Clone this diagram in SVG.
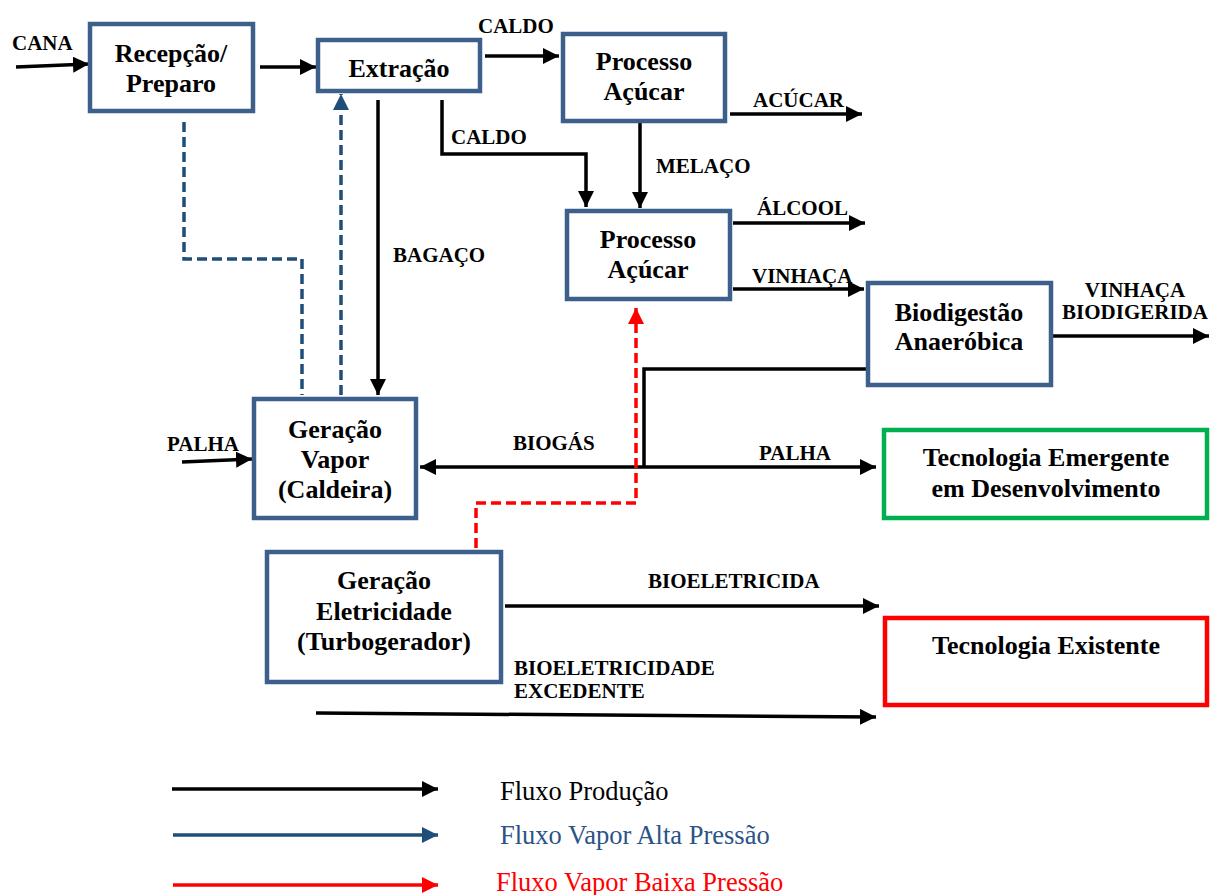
<svg xmlns="http://www.w3.org/2000/svg" width="1210" height="895" viewBox="0 0 1210 895">
  <style>
    .box { fill: #ffffff; stroke: #3D5F8C; stroke-width: 4.5; }
    .tech-new { fill: #ffffff; stroke: #00B050; stroke-width: 4.5; }
    .tech-old { fill: #ffffff; stroke: #FF0000; stroke-width: 4.5; }
    .bt { font-family: "Liberation Serif", "Times New Roman", serif; font-weight: bold; font-size: 26px; fill: #000; text-anchor: middle; }
    .lbl { font-family: "Liberation Serif", "Times New Roman", serif; font-weight: bold; font-size: 21px; fill: #000; }
    .leg { font-family: "Liberation Serif", "Times New Roman", serif; font-size: 26.5px; }
    .flow { fill: none; stroke: #000; stroke-width: 3.5; }
    .hp { fill: none; stroke: #1F4E79; stroke-width: 3.5; stroke-dasharray: 10 5; }
    .lp { fill: none; stroke: #FF0000; stroke-width: 3.5; stroke-dasharray: 10 5; }
  </style>
  <defs>
    <marker id="ah" viewBox="0 0 16 16" refX="16" refY="8" markerWidth="16" markerHeight="16" markerUnits="userSpaceOnUse" orient="auto">
      <path d="M0,0 L16,8 L0,16 z" fill="#000"/>
    </marker>
    <marker id="ahBlue" viewBox="0 0 16 16" refX="16" refY="8" markerWidth="16" markerHeight="16" markerUnits="userSpaceOnUse" orient="auto">
      <path d="M0,0 L16,8 L0,16 z" fill="#1F4E79"/>
    </marker>
    <marker id="ahRed" viewBox="0 0 16 16" refX="16" refY="8" markerWidth="16" markerHeight="16" markerUnits="userSpaceOnUse" orient="auto">
      <path d="M0,0 L16,8 L0,16 z" fill="#FF0000"/>
    </marker>
  </defs>

  <!-- connectors -->
  <g id="connectors">
    <!-- production flows -->
    <path class="flow" d="M16,67 L89,64" marker-end="url(#ah)"/>
    <path class="flow" d="M260,67 H316" marker-end="url(#ah)"/>
    <path class="flow" d="M485,56 H559" marker-end="url(#ah)"/>
    <path class="flow" d="M730,114 H862" marker-end="url(#ah)"/>
    <path class="flow" d="M442,100 V154 H586 V207" marker-end="url(#ah)"/>
    <path class="flow" d="M640,123 V208" marker-end="url(#ah)"/>
    <path class="flow" d="M733,223 H865" marker-end="url(#ah)"/>
    <path class="flow" d="M733,289 H864" marker-end="url(#ah)"/>
    <path class="flow" d="M1052,336 H1209" marker-end="url(#ah)"/>
    <path class="flow" d="M378,100 V395" marker-end="url(#ah)"/>
    <path class="flow" d="M868,369 H644 V467"/>
    <path class="flow" d="M644,467 H420" marker-end="url(#ah)"/>
    <path class="flow" d="M644,467 H876" marker-end="url(#ah)"/>
    <path class="flow" d="M182,462 L252,459" marker-end="url(#ah)"/>
    <path class="flow" d="M505,606 H879" marker-end="url(#ah)"/>
    <path class="flow" d="M316,713 L876,717" marker-end="url(#ah)"/>
    <!-- high pressure steam -->
    <path class="hp" d="M184,122 V259 H302 V395"/>
    <path class="hp" d="M341,395 V94" marker-end="url(#ahBlue)"/>
    <!-- low pressure steam -->
    <path class="lp" d="M476,548 V503 H636 V308" marker-end="url(#ahRed)"/>
  </g>

  <!-- flow labels -->
  <g id="labels">
    <text class="lbl" x="12" y="50">CANA</text>
    <text class="lbl" x="478" y="33">CALDO</text>
    <text class="lbl" x="753" y="107">ACÚCAR</text>
    <text class="lbl" x="451" y="144">CALDO</text>
    <text class="lbl" x="656" y="173">MELAÇO</text>
    <text class="lbl" x="757" y="215">ÁLCOOL</text>
    <text class="lbl" x="752" y="283">VINHAÇA</text>
    <text class="lbl" x="1135" y="297" text-anchor="middle">VINHAÇA</text>
    <text class="lbl" x="1135" y="319" text-anchor="middle">BIODIGERIDA</text>
    <text class="lbl" x="393" y="262">BAGAÇO</text>
    <text class="lbl" x="167" y="451">PALHA</text>
    <text class="lbl" x="513" y="450">BIOGÁS</text>
    <text class="lbl" x="759" y="460">PALHA</text>
    <text class="lbl" x="648" y="588">BIOELETRICIDA</text>
    <text class="lbl" x="514" y="675">BIOELETRICIDADE</text>
    <text class="lbl" x="514" y="698">EXCEDENTE</text>
  </g>

  <!-- process nodes -->
  <g id="recepcao">
    <rect class="box" x="90" y="24" width="163" height="87"/>
    <text class="bt" x="171" y="62">Recepção/</text>
    <text class="bt" x="171" y="92">Preparo</text>
  </g>
  <g id="extracao">
    <rect class="box" x="318" y="40" width="162" height="51"/>
    <text class="bt" x="399" y="77">Extração</text>
  </g>
  <g id="processo-acucar-1">
    <rect class="box" x="563" y="34" width="162" height="87"/>
    <text class="bt" x="644" y="70">Processo</text>
    <text class="bt" x="644" y="100">Açúcar</text>
  </g>
  <g id="processo-acucar-2">
    <rect class="box" x="567" y="211" width="163" height="88"/>
    <text class="bt" x="648" y="248">Processo</text>
    <text class="bt" x="648" y="278">Açúcar</text>
  </g>
  <g id="biodigestao">
    <rect class="box" x="868" y="283" width="183" height="102"/>
    <text class="bt" x="959" y="321">Biodigestão</text>
    <text class="bt" x="959" y="350">Anaeróbica</text>
  </g>
  <g id="geracao-vapor">
    <rect class="box" x="254" y="399" width="162" height="119"/>
    <text class="bt" x="335" y="438">Geração</text>
    <text class="bt" x="335" y="468">Vapor</text>
    <text class="bt" x="335" y="498">(Caldeira)</text>
  </g>
  <g id="geracao-eletricidade">
    <rect class="box" x="267" y="552" width="234" height="130"/>
    <text class="bt" x="384" y="589">Geração</text>
    <text class="bt" x="384" y="620">Eletricidade</text>
    <text class="bt" x="384" y="650">(Turbogerador)</text>
  </g>
  <g id="tecnologia-emergente">
    <rect class="tech-new" x="884" y="430" width="323" height="88"/>
    <text class="bt" x="1046" y="466">Tecnologia Emergente</text>
    <text class="bt" x="1046" y="497">em Desenvolvimento</text>
  </g>
  <g id="tecnologia-existente">
    <rect class="tech-old" x="885" y="618" width="322" height="87"/>
    <text class="bt" x="1046" y="654">Tecnologia Existente</text>
  </g>

  <!-- legend -->
  <g id="legend">
    <path class="flow" d="M172,789 H438" marker-end="url(#ah)"/>
    <path d="M173,835 H438" fill="none" stroke="#1F4E79" stroke-width="3.5" marker-end="url(#ahBlue)"/>
    <path d="M173,885 H438" fill="none" stroke="#FF0000" stroke-width="3.5" marker-end="url(#ahRed)"/>
    <text class="leg" x="500" y="800" fill="#000">Fluxo Produção</text>
    <text class="leg" x="500" y="844" fill="#2B5486">Fluxo Vapor Alta Pressão</text>
    <text class="leg" x="496" y="891" fill="#FF0000">Fluxo Vapor Baixa Pressão</text>
  </g>
</svg>
